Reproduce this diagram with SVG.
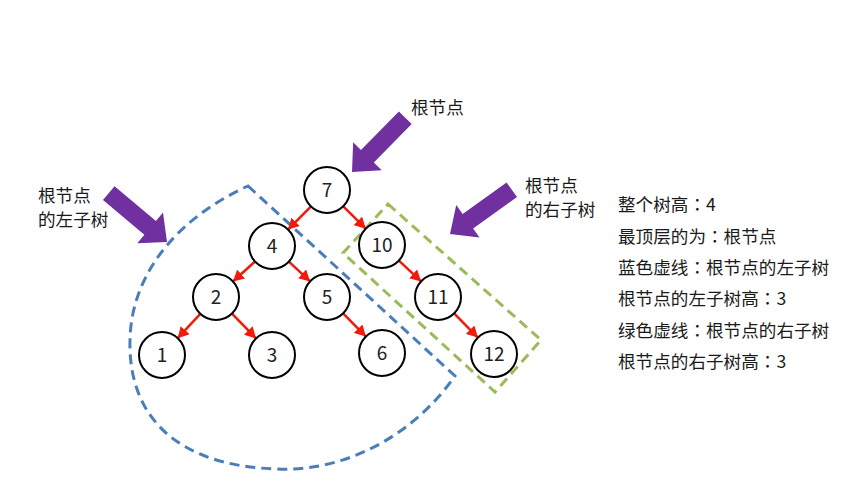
<svg xmlns="http://www.w3.org/2000/svg" width="866" height="500" viewBox="0 0 866 500">
<style>
.node circle{fill:#fff;stroke:#000;stroke-width:2}
.node text{font-family:"Noto Sans CJK SC","Open Sans",sans-serif;font-size:19px;fill:#222;text-anchor:middle}
.edge{stroke:#f21a0a;stroke-width:2.5;fill:none;marker-end:url(#ah)}
.lbl{font-family:"Noto Sans CJK SC",sans-serif;font-size:17.6px;fill:#1a1a1a}
.c{font-family:"Noto Sans CJK JP",sans-serif}
.big{fill:#7030a0}
.blue{fill:none;stroke:#4a7ebb;stroke-width:3;stroke-dasharray:10 6}
.green{fill:none;stroke:#9bbb59;stroke-width:3;stroke-dasharray:10 6}
</style>
<defs>
<marker id="ah" markerUnits="userSpaceOnUse" markerWidth="12" markerHeight="12" refX="11" refY="6" orient="auto">
<path d="M0,0 L11,6 L0,12 z" fill="#f21a0a"/>
</marker>
<path id="bigarrow" d="M0,0 L-22,-20 L-22,-9 L-76,-9 L-76,9 L-22,9 L-22,20 Z"/>
</defs>
<rect width="866" height="500" fill="#fff"/>

<g id="regions">
<path class="blue" d="M248,186 L455,376 C410,440 340,472 277,469 C175,466 128,415 130,340 C131,280 170,222 248,186 Z"/>
<polygon class="green" points="388,204 541,340 495,392 343,253"/>
</g>

<g id="pointers">
<use href="#bigarrow" class="big" transform="translate(352,172) rotate(134.5)"/>
<use href="#bigarrow" class="big" transform="translate(167,242) rotate(40)"/>
<use href="#bigarrow" class="big" transform="translate(450,234) rotate(144.4)"/>
</g>

<g id="connectors">
<line class="edge" x1="311" y1="206.4" x2="288" y2="229.6"/>
<line class="edge" x1="343.3" y1="206.3" x2="365.7" y2="228.7"/>
<line class="edge" x1="255" y1="261.5" x2="233" y2="281.5"/>
<line class="edge" x1="288.9" y1="261.6" x2="310.1" y2="281.4"/>
<line class="edge" x1="200.3" y1="313.8" x2="177.7" y2="338.2"/>
<line class="edge" x1="232" y1="313.6" x2="256" y2="338.4"/>
<line class="edge" x1="343.1" y1="313.4" x2="365.9" y2="336.6"/>
<line class="edge" x1="398.9" y1="260.6" x2="421.1" y2="281.4"/>
<line class="edge" x1="454.1" y1="313.4" x2="477.9" y2="337.6"/>
</g>

<g id="n7" class="node"><circle cx="327" cy="190" r="23"/><text x="327" y="196.5">7</text></g>
<g id="n4" class="node"><circle cx="272" cy="246" r="23"/><text x="272" y="252.5">4</text></g>
<g id="n10" class="node"><circle cx="382" cy="245" r="23"/><text x="382" y="251.5">10</text></g>
<g id="n2" class="node"><circle cx="216" cy="297" r="23"/><text x="216" y="303.5">2</text></g>
<g id="n5" class="node"><circle cx="327" cy="297" r="23"/><text x="327" y="303.5">5</text></g>
<g id="n11" class="node"><circle cx="438" cy="297" r="23"/><text x="438" y="303.5">11</text></g>
<g id="n1" class="node"><circle cx="162" cy="355" r="23"/><text x="162" y="361.5">1</text></g>
<g id="n3" class="node"><circle cx="272" cy="355" r="23"/><text x="272" y="361.5">3</text></g>
<g id="n6" class="node"><circle cx="382" cy="353" r="23"/><text x="382" y="359.5">6</text></g>
<g id="n12" class="node"><circle cx="494" cy="354" r="23"/><text x="494" y="360.5">12</text></g>

<g id="labels">
<text class="lbl" x="411" y="114">根节点</text>
<text class="lbl" x="38" y="202">根节点</text>
<text class="lbl" x="38" y="226">的左子树</text>
<text class="lbl" x="525" y="192">根节点</text>
<text class="lbl" x="525" y="216">的右子树</text>
</g>

<g id="notes">
<text class="lbl" x="618" y="211">整个树高<tspan class="c">：</tspan>4</text>
<text class="lbl" x="618" y="243">最顶层的为<tspan class="c">：</tspan>根节点</text>
<text class="lbl" x="618" y="274">蓝色虚线<tspan class="c">：</tspan>根节点的左子树</text>
<text class="lbl" x="618" y="305">根节点的左子树高<tspan class="c">：</tspan>3</text>
<text class="lbl" x="618" y="337">绿色虚线<tspan class="c">：</tspan>根节点的右子树</text>
<text class="lbl" x="618" y="368">根节点的右子树高<tspan class="c">：</tspan>3</text>
</g>
</svg>
